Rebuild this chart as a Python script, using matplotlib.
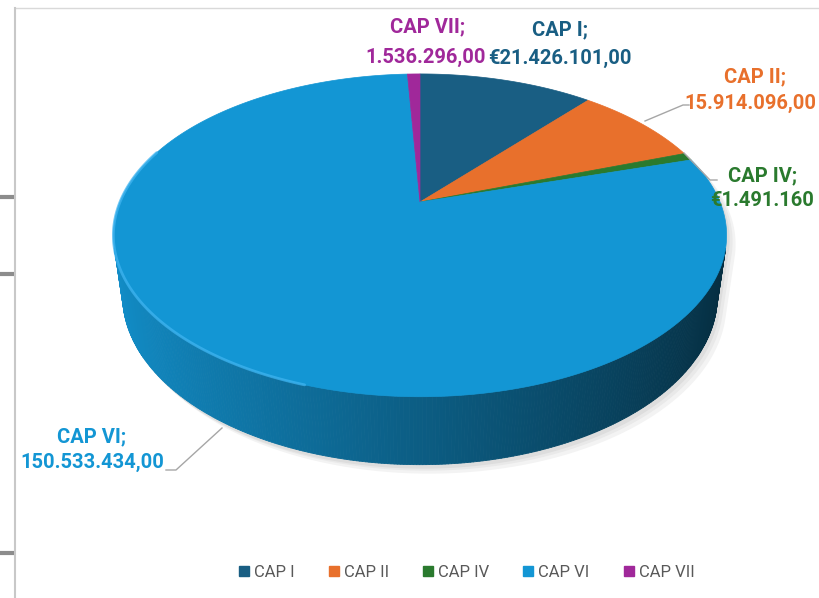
import numpy as np
import matplotlib.pyplot as plt
from matplotlib.collections import PolyCollection
from matplotlib.patches import Polygon, Patch
from matplotlib.colors import to_rgb

# Data
categories = ["CAP I", "CAP II", "CAP IV", "CAP VI", "CAP VII"]
values = [21426101.00, 15914096.00, 1491160.00, 150533434.00, 1536296.00]
value_labels = ["€21.426.101,00", "15.914.096,00", "€1.491.160", "150.533.434,00", "1.536.296,00"]
colors = ["#195E83", "#E8702C", "#2A7A2E", "#1396D4", "#A0289A"]

FONT = ["Roboto", "DejaVu Sans"]

# simple perspective camera for the 3D pie (pixel space)
phi = np.radians(31)
D = 4.15
K = 1245
CX, CY = 420, 202
H = 0.24
cphi, sphi = np.cos(phi), np.sin(phi)


def project(x, y, z):
    dy = y + D * cphi
    dz = z - D * sphi
    w = dy * cphi - dz * sphi
    return CX + K * x / w, CY - K * (dy * sphi + dz * cphi) / w


def ring(a0, a1, z, n):
    a = np.radians(np.linspace(a0, a1, n))
    return project(np.sin(a), np.cos(a), z)


def hull(pts):
    pts = sorted(set(map(tuple, np.round(pts, 2))))
    def cross(o, a, b):
        return (a[0] - o[0]) * (b[1] - o[1]) - (a[1] - o[1]) * (b[0] - o[0])
    lower, upper = [], []
    for p in pts:
        while len(lower) >= 2 and cross(lower[-2], lower[-1], p) <= 0:
            lower.pop()
        lower.append(p)
    for p in reversed(pts):
        while len(upper) >= 2 and cross(upper[-2], upper[-1], p) <= 0:
            upper.pop()
        upper.append(p)
    return np.array(lower[:-1] + upper[:-1])


fig = plt.figure(figsize=(8.2, 5.98), dpi=100)
ax = fig.add_axes([0, 0, 1, 1])
ax.set_xlim(0, 820)
ax.set_ylim(598, 0)
ax.axis("off")

# screenshot frame bits
ax.plot([15, 820], [8, 8], color="#D9D9D9", lw=1)
ax.plot([15, 15], [8, 598], color="#C8C8C8", lw=1.5)
for ty in [197, 274, 553]:
    ax.plot([0, 14], [ty, ty], color="#8C8C8C", lw=3, solid_capstyle="butt")

# shadow
tx, ty_ = ring(0, 360, 0, 200)
bx, by = ring(0, 360, -H, 200)
sil = hull(np.column_stack([np.r_[tx, bx], np.r_[ty_, by]]))
for (ox, oy), col in zip([(9, 9), (6, 6), (3, 4)], ["#F3F3F3", "#E9E9E9", "#DDDDDD"]):
    ax.add_patch(Polygon(sil + [ox, oy], closed=True, fc=col, ec="none", zorder=1))

# slice angles, clockwise from the back
fracs = np.array(values) / sum(values)
edges = np.r_[0, np.cumsum(fracs)] * 360

# side wall (front part only), lit from the left
vis_lim = -1 / (D * cphi)
quads, qcols = [], []
for i in range(len(values)):
    a = np.linspace(edges[i], edges[i + 1], max(4, int((edges[i + 1] - edges[i]) * 2)))
    for a0, a1 in zip(a[:-1], a[1:]):
        am = np.radians((a0 + a1) / 2)
        if np.cos(am) > vis_lim:
            continue
        r0, r1 = np.radians(a0), np.radians(a1)
        p1 = project(np.sin(r0), np.cos(r0), 0)
        p2 = project(np.sin(r1), np.cos(r1), 0)
        p3 = project(np.sin(r1), np.cos(r1), -H)
        p4 = project(np.sin(r0), np.cos(r0), -H)
        quads.append([p1, p2, p3, p4])
        f = np.clip(0.62 - 0.33 * np.sin(am), 0.28, 1)
        qcols.append(np.clip(np.array(to_rgb(colors[i])) * f, 0, 1))
ax.add_collection(PolyCollection(quads, facecolors=qcols, edgecolors=qcols, lw=0.6, zorder=2))

# top faces
for i in range(len(values)):
    xs, ys = ring(edges[i], edges[i + 1], 0, max(3, int((edges[i + 1] - edges[i]) * 2)))
    pts = np.column_stack([np.r_[CX, xs], np.r_[CY, ys]])
    ax.add_patch(Polygon(pts, closed=True, fc=colors[i], ec=colors[i], lw=0.5, zorder=3))

# light rim on the front-left edge
rx, ry = ring(198, 290, 0, 120)
ax.plot(rx, ry, color="#3FB4F0", lw=2, alpha=0.75, zorder=4, solid_capstyle="round")

# data labels
label_pos = {
    "CAP I": [(560, 30), (560, 58)],
    "CAP II": [(755, 77), (750, 103)],
    "CAP IV": [(763, 176), (762, 200)],
    "CAP VI": [(92, 437), (92, 462)],
    "CAP VII": [(428, 27), (426, 57)],
}
for cat, val, col in zip(categories, value_labels, colors):
    (x1, y1), (x2, y2) = label_pos[cat]
    ax.text(x1, y1, cat + ";", color=col, family=FONT, fontweight="bold",
            fontsize=14.5, ha="center", va="center", zorder=5)
    ax.text(x2, y2, val, color=col, family=FONT, fontweight="bold",
            fontsize=14.5, ha="center", va="center", zorder=5)

# leader lines
leaders = [
    ([645, 683, 689], [121, 105, 105]),
    ([684, 710, 717], [153, 180, 180]),
    ([222, 176, 166], [428, 470, 470]),
]
for lx, ly in leaders:
    ax.plot(lx, ly, color="#A6A6A6", lw=1, zorder=5)

# legend
handles = [Patch(facecolor=c, edgecolor=c) for c in colors]
fig.legend(handles, categories, loc="center", bbox_to_anchor=(0.569, 0.043), ncol=5,
           frameon=False, handlelength=0.6, handleheight=0.6, handletextpad=0.3,
           columnspacing=2.05, prop={"family": FONT, "size": 12}, labelcolor="#595959")

fig.savefig("out.png", dpi=100)
